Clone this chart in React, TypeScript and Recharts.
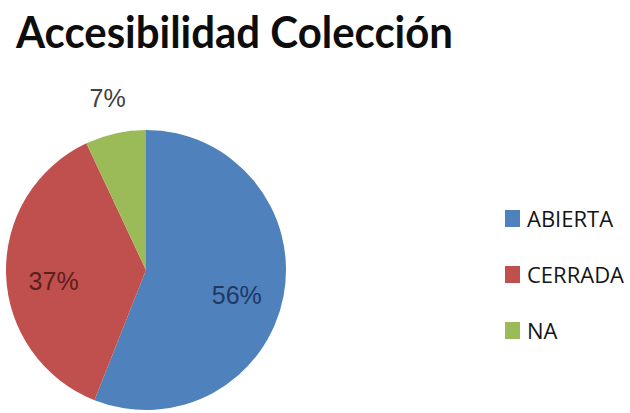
import { PieChart, Pie, Cell, Legend } from 'recharts'

const categories = ['ABIERTA', 'CERRADA', 'NA']
const values = [56, 37, 7]
const colors = ['#4f81bd', '#c0504d', '#9bbb59']
const labelColors = ['#1f3864', '#5c1f1d', '#404040']

const RAD = Math.PI / 180

const data = categories.map((name, i) => ({ name, value: values[i] }))

function renderLabel(props: any) {
  const { cx, cy, midAngle, outerRadius, percent, index } = props
  // small slices go outside, the rest inside
  const r = percent < 0.1 ? outerRadius + 36 : outerRadius * 0.66
  const x = cx + r * Math.cos(-midAngle * RAD)
  const y = cy + r * Math.sin(-midAngle * RAD) + (percent < 0.1 ? 0 : 8)
  return (
    <text
      x={x}
      y={y}
      fill={labelColors[index]}
      textAnchor="middle"
      dominantBaseline="central"
      fontFamily="'Liberation Sans', Arial, sans-serif"
      fontSize={25}
    >
      {`${Math.round(percent * 100)}%`}
    </text>
  )
}

function renderLegend(props: any) {
  const payload = props.payload || []
  return (
    <div style={{ fontFamily: "'Open Sans', sans-serif", fontSize: 22, color: '#141414' }}>
      {payload.map((entry: any) => (
        <div key={entry.value} style={{ display: 'flex', alignItems: 'center', height: 56 }}>
          <span style={{ display: 'inline-block', width: 15, height: 17, marginRight: 7, background: colors[categories.indexOf(entry.value)] ?? entry.color }} />
          <span>{entry.value}</span>
        </div>
      ))}
    </div>
  )
}

export default function App() {
  return (
    <div style={{ position: 'relative', width: 630, height: 413, background: '#fff', overflow: 'hidden' }}>
      <style>{'body{margin:0}'}</style>
      <svg width={630} height={70} style={{ position: 'absolute', left: 0, top: 0 }}>
        <text
          x={16}
          y={48}
          fontFamily="Lato, 'Open Sans', sans-serif"
          fontWeight="bold"
          fontSize={43}
          fill="#0d0d0d"
          textLength={437}
          lengthAdjust="spacingAndGlyphs"
        >
          Accesibilidad Colección
        </text>
      </svg>
      <PieChart width={630} height={413} margin={{ top: 0, right: 0, bottom: 0, left: 0 }}>
        <Pie
          data={data}
          dataKey="value"
          nameKey="name"
          cx={146}
          cy={270}
          outerRadius={140}
          startAngle={90}
          endAngle={-270}
          stroke="none"
          labelLine={false}
          label={renderLabel}
          isAnimationActive={false}
        >
          {data.map((d, i) => (
            <Cell key={d.name} fill={colors[i]} />
          ))}
        </Pie>
        <Legend
          layout="vertical"
          align="right"
          verticalAlign="middle"
          content={renderLegend}
          wrapperStyle={{ left: 505, top: 190, width: 'auto', right: 'auto' }}
        />
      </PieChart>
    </div>
  )
}
